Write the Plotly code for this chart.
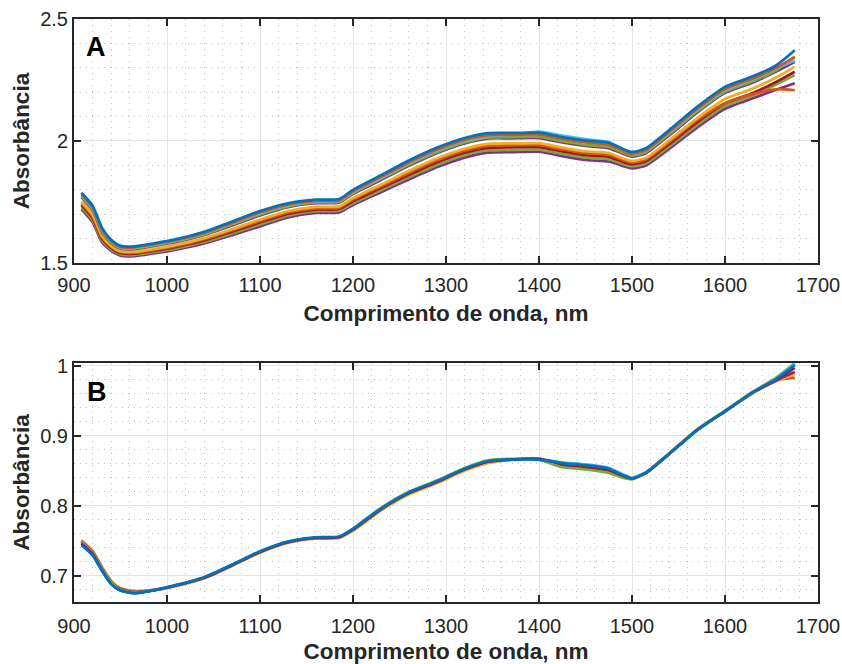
import plotly.graph_objects as go

# Wavelength grid (nm)
wavelength = [908, 920, 930, 940, 950, 965, 985, 1010, 1040, 1070, 1100, 1130, 1160, 1185,
              1200, 1230, 1260, 1290, 1320, 1345, 1370, 1400, 1425, 1450, 1475, 1490, 1500,
              1515, 1540, 1570, 1600, 1630, 1655, 1675]

# Panel A: raw absorbance spectra
a_blue = [1.788, 1.735, 1.645, 1.595, 1.570, 1.568, 1.580, 1.598, 1.628, 1.670, 1.713, 1.745, 1.760, 1.762,
          1.800, 1.860, 1.920, 1.972, 2.012, 2.032, 2.033, 2.034, 2.016, 2.002, 1.993, 1.968, 1.955,
          1.970, 2.045, 2.140, 2.222, 2.265, 2.310, 2.372]
a_orange = [1.781, 1.728, 1.639, 1.590, 1.566, 1.564, 1.576, 1.594, 1.623, 1.664, 1.707, 1.739, 1.754, 1.756,
            1.794, 1.853, 1.912, 1.964, 2.004, 2.024, 2.025, 2.026, 2.008, 1.994, 1.985, 1.961, 1.948,
            1.963, 2.037, 2.131, 2.213, 2.256, 2.300, 2.345]
a_lightblue = [1.778, 1.725, 1.636, 1.588, 1.564, 1.562, 1.574, 1.592, 1.621, 1.662, 1.704, 1.736, 1.752, 1.754,
               1.791, 1.849, 1.908, 1.960, 2.000, 2.020, 2.025, 2.038, 2.022, 2.008, 1.996, 1.965, 1.948,
               1.960, 2.034, 2.127, 2.209, 2.252, 2.297, 2.330]
a_green = [1.773, 1.720, 1.632, 1.585, 1.561, 1.559, 1.571, 1.589, 1.617, 1.658, 1.699, 1.732, 1.748, 1.750,
           1.786, 1.845, 1.903, 1.954, 1.994, 2.014, 2.016, 2.017, 1.999, 1.984, 1.976, 1.953, 1.940,
           1.955, 2.028, 2.121, 2.202, 2.245, 2.290, 2.345]
a_purple = [1.769, 1.716, 1.628, 1.582, 1.559, 1.557, 1.569, 1.586, 1.615, 1.654, 1.695, 1.729, 1.745, 1.747,
            1.783, 1.840, 1.898, 1.950, 1.990, 2.010, 2.011, 2.012, 1.994, 1.980, 1.971, 1.948, 1.936,
            1.950, 2.023, 2.116, 2.197, 2.240, 2.285, 2.325]
a_yellow = [1.751, 1.698, 1.612, 1.570, 1.548, 1.546, 1.557, 1.574, 1.602, 1.639, 1.678, 1.713, 1.730, 1.732,
            1.766, 1.821, 1.877, 1.928, 1.968, 1.988, 1.990, 1.991, 1.973, 1.958, 1.951, 1.929, 1.918,
            1.931, 2.003, 2.093, 2.172, 2.215, 2.260, 2.305]
a_orange2 = [1.744, 1.691, 1.606, 1.566, 1.544, 1.542, 1.553, 1.570, 1.597, 1.634, 1.672, 1.707, 1.724, 1.726,
             1.760, 1.814, 1.869, 1.920, 1.960, 1.980, 1.982, 1.983, 1.965, 1.950, 1.943, 1.922, 1.911,
             1.924, 1.995, 2.085, 2.155, 2.192, 2.212, 2.208]
a_red = [1.737, 1.684, 1.600, 1.561, 1.540, 1.538, 1.549, 1.566, 1.592, 1.628, 1.666, 1.701, 1.719, 1.721,
         1.753, 1.807, 1.861, 1.912, 1.952, 1.972, 1.974, 1.975, 1.957, 1.942, 1.935, 1.915, 1.905,
         1.917, 1.987, 2.076, 2.154, 2.197, 2.242, 2.284]
a_green2 = [1.728, 1.675, 1.592, 1.555, 1.535, 1.533, 1.544, 1.560, 1.586, 1.621, 1.658, 1.694, 1.712, 1.714,
            1.745, 1.798, 1.851, 1.902, 1.942, 1.962, 1.963, 1.965, 1.947, 1.932, 1.925, 1.906, 1.896,
            1.908, 1.977, 2.065, 2.143, 2.186, 2.231, 2.270]
a_purple2 = [1.720, 1.667, 1.585, 1.550, 1.530, 1.528, 1.539, 1.555, 1.580, 1.614, 1.650, 1.687, 1.705, 1.707,
             1.738, 1.790, 1.842, 1.892, 1.932, 1.952, 1.954, 1.956, 1.938, 1.922, 1.916, 1.898, 1.888,
             1.900, 1.968, 2.055, 2.132, 2.175, 2.210, 2.237]

# Panel B: pre-processed spectra
b_orange = [0.750, 0.735, 0.712, 0.692, 0.682, 0.678, 0.680, 0.686, 0.697, 0.715, 0.734, 0.748, 0.754, 0.755,
            0.765, 0.794, 0.817, 0.833, 0.851, 0.862, 0.866, 0.867, 0.858, 0.855, 0.850, 0.842, 0.839,
            0.848, 0.875, 0.909, 0.935, 0.961, 0.979, 0.983]
b_yellow = [0.751, 0.736, 0.713, 0.693, 0.682, 0.678, 0.679, 0.685, 0.696, 0.714, 0.733, 0.747, 0.753, 0.754,
            0.764, 0.793, 0.816, 0.832, 0.850, 0.861, 0.865, 0.866, 0.857, 0.854, 0.849, 0.841, 0.838,
            0.847, 0.874, 0.908, 0.935, 0.961, 0.978, 0.988]
b_purple = [0.749, 0.734, 0.711, 0.691, 0.681, 0.677, 0.679, 0.686, 0.697, 0.715, 0.734, 0.748, 0.754, 0.755,
            0.766, 0.795, 0.818, 0.834, 0.852, 0.863, 0.866, 0.866, 0.858, 0.855, 0.850, 0.842, 0.839,
            0.847, 0.874, 0.908, 0.935, 0.962, 0.979, 0.991]
b_green = [0.748, 0.733, 0.710, 0.690, 0.680, 0.676, 0.679, 0.686, 0.697, 0.715, 0.734, 0.748, 0.754, 0.755,
           0.767, 0.797, 0.820, 0.836, 0.854, 0.865, 0.867, 0.866, 0.855, 0.852, 0.847, 0.840, 0.838,
           0.847, 0.875, 0.909, 0.936, 0.963, 0.983, 1.004]
b_lightblue = [0.747, 0.732, 0.709, 0.689, 0.679, 0.675, 0.679, 0.686, 0.697, 0.715, 0.734, 0.748, 0.754, 0.755,
               0.766, 0.796, 0.819, 0.835, 0.853, 0.864, 0.866, 0.867, 0.862, 0.859, 0.854, 0.845, 0.840,
               0.848, 0.874, 0.908, 0.935, 0.962, 0.982, 1.003]
b_red = [0.746, 0.731, 0.708, 0.688, 0.679, 0.675, 0.679, 0.686, 0.697, 0.715, 0.734, 0.748, 0.754, 0.755,
         0.766, 0.795, 0.818, 0.834, 0.852, 0.863, 0.866, 0.867, 0.860, 0.856, 0.851, 0.843, 0.839,
         0.847, 0.874, 0.908, 0.935, 0.962, 0.980, 0.997]
b_blue = [0.744, 0.729, 0.707, 0.688, 0.679, 0.675, 0.679, 0.687, 0.698, 0.716, 0.735, 0.749, 0.755, 0.756,
          0.767, 0.796, 0.819, 0.835, 0.853, 0.864, 0.866, 0.866, 0.861, 0.858, 0.853, 0.844, 0.839,
          0.847, 0.874, 0.908, 0.935, 0.962, 0.981, 1.001]

# Tick labels
x_ticks = [900, 1000, 1100, 1200, 1300, 1400, 1500, 1600, 1700]
a_yticks = [1.5, 2, 2.5]
a_yticklabels = ["1.5", "2", "2.5"]
b_yticks = [0.7, 0.8, 0.9, 1.0]
b_yticklabels = ["0.7", "0.8", "0.9", "1"]

BLUE, ORANGE, YELLOW, PURPLE = "#0072BD", "#D95319", "#EDB120", "#7E2F8E"
GREEN, LIGHTBLUE, RED = "#77AC30", "#4DBEEE", "#A2142F"

panel_a = [(a_purple2, PURPLE), (a_green2, GREEN), (a_red, RED), (a_orange2, ORANGE),
           (a_yellow, YELLOW), (a_purple, PURPLE), (a_green, GREEN), (a_lightblue, LIGHTBLUE),
           (a_orange, ORANGE), (a_blue, BLUE)]
panel_b = [(b_orange, ORANGE), (b_yellow, YELLOW), (b_purple, PURPLE), (b_green, GREEN),
           (b_lightblue, LIGHTBLUE), (b_red, RED), (b_blue, BLUE)]

fig = go.Figure()
for values, color in panel_a:
    fig.add_trace(go.Scatter(x=wavelength, y=values, mode="lines", xaxis="x", yaxis="y",
                             line=dict(color=color, width=2.7, shape="spline", smoothing=0.6),
                             showlegend=False, hoverinfo="skip"))
for values, color in panel_b:
    fig.add_trace(go.Scatter(x=wavelength, y=values, mode="lines", xaxis="x2", yaxis="y2",
                             line=dict(color=color, width=2.7, shape="spline", smoothing=0.6),
                             showlegend=False, hoverinfo="skip"))

FONT = "Liberation Sans, Arial, sans-serif"
INK = "#262626"
TICK_SIZE = 20
LABEL_SIZE = 22.5

def axis_style(**extra):
    style = dict(
        showline=True, linecolor=INK, linewidth=2, mirror="ticks",
        ticks="inside", ticklen=7, tickwidth=2, tickcolor=INK,
        showgrid=True, gridcolor="#e4e4e4", gridwidth=1, zeroline=False,
        automargin=False,
        tickfont=dict(family=FONT, size=TICK_SIZE, color=INK),
    )
    style.update(extra)
    return style

def minor_grid(step):
    return dict(dtick=step, showgrid=True, gridcolor="#c0c0c0", griddash="1px,5px", gridwidth=1, ticks="")

def x_title(standoff):
    return dict(text="<b>Comprimento de onda, nm</b>", font=dict(size=LABEL_SIZE, color=INK), standoff=standoff)

y_title = dict(text="<b>Absorbância</b>", font=dict(size=LABEL_SIZE, color=INK), standoff=4)

fig.update_layout(
    width=842, height=664,
    margin=dict(l=74, r=24, t=19, b=62),
    paper_bgcolor="white", plot_bgcolor="white",
    font=dict(family=FONT, color=INK),
    xaxis=axis_style(range=[900, 1700], tickvals=x_ticks, anchor="y", minor=minor_grid(20), title=x_title(10),
                     ticklabelstandoff=3),
    yaxis=axis_style(range=[1.5, 2.5], domain=[0.5815, 1.0], tickvals=a_yticks, ticktext=a_yticklabels,
                     anchor="x", minor=minor_grid(0.1), title=y_title),
    xaxis2=axis_style(range=[900, 1700], tickvals=x_ticks, anchor="y2", minor=minor_grid(20), title=x_title(12),
                      ticklabelstandoff=5),
    yaxis2=axis_style(range=[0.6625, 1.004], domain=[0.0, 0.41], tickvals=b_yticks, ticktext=b_yticklabels,
                      anchor="x2", minor=dict(minor_grid(0.02), tick0=0.7), title=y_title),
    annotations=[
        dict(text="<b>A</b>", xref="x domain", yref="y domain", x=0.03, y=0.885,
             xanchor="center", yanchor="middle", showarrow=False,
             font=dict(family=FONT, size=27, color="black")),
        dict(text="<b>B</b>", xref="x2 domain", yref="y2 domain", x=0.031, y=0.879,
             xanchor="center", yanchor="middle", showarrow=False,
             font=dict(family=FONT, size=27, color="black")),
    ],
)

fig.write_html("out.html")
